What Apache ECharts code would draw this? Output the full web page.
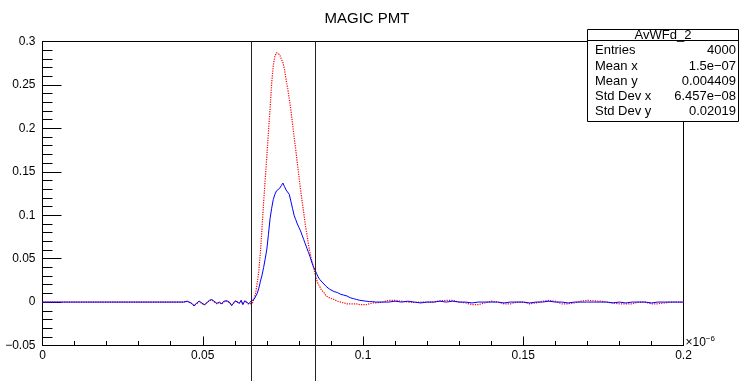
<!DOCTYPE html>
<html>
<head>
<meta charset="utf-8">
<title>MAGIC PMT</title>
<script src="https://cdn.jsdelivr.net/npm/echarts@6/dist/echarts.min.js"></script>
<style>
  html, body { margin: 0; padding: 0; background: #fff; }
  #chart { width: 740px; height: 381px; }
</style>
</head>
<body>
<div id="chart"></div>
<script>
// Time in units of 1e-6 s
const timeAxis = [
  0,
  0.0440, 0.0445, 0.0452, 0.0458, 0.0466, 0.0473, 0.0481, 0.0489, 0.0497, 0.0505,
  0.0512, 0.0521, 0.0528, 0.0535, 0.0544, 0.0552, 0.0559, 0.0566, 0.0575, 0.0583,
  0.0590, 0.0595, 0.0602, 0.0608, 0.0614, 0.0620, 0.0625, 0.0631, 0.0637, 0.0644, 0.0648,
  0.0650, 0.0655, 0.0660, 0.0665, 0.0670, 0.0675, 0.0680, 0.0685, 0.0690, 0.0695,
  0.0700, 0.0705, 0.0710, 0.0715, 0.0720, 0.0725, 0.0730, 0.0735, 0.0740, 0.0745,
  0.0750, 0.0755, 0.0760, 0.0765, 0.0770, 0.0775, 0.0780, 0.0785, 0.0790, 0.0795,
  0.0800, 0.0805, 0.0810, 0.0815, 0.0820, 0.0825, 0.0830, 0.0835, 0.0840, 0.0845,
  0.0850, 0.0855, 0.0860, 0.0865, 0.0870, 0.0875, 0.0880, 0.0885, 0.0890, 0.0895, 0.0900,
  0.091, 0.092, 0.093, 0.094, 0.095, 0.096, 0.097, 0.098, 0.099, 0.100,
  0.101, 0.102, 0.103, 0.104,
  0.106, 0.108, 0.110, 0.112, 0.114, 0.116, 0.118, 0.120, 0.122, 0.124,
  0.126, 0.128, 0.130, 0.132, 0.134, 0.136, 0.138, 0.140, 0.142, 0.144,
  0.146, 0.148, 0.150, 0.152, 0.154, 0.156, 0.158, 0.160, 0.162, 0.164,
  0.166, 0.168, 0.170, 0.172, 0.174, 0.176, 0.178, 0.180, 0.182, 0.184,
  0.186, 0.188, 0.190, 0.192, 0.194, 0.196, 0.198, 0.200
];

// Red waveform
const redTrace = [
  0,
  0, 0, 0.0005, 0.0015, -0.002, -0.004, -0.002, 0.0005, -0.0015, -0.0035,
  -0.001, 0.0015, 0.0025, 0.0005, -0.002, -0.0005, -0.0025, 0.0005, 0.001, -0.0005,
  -0.0035, -0.0045, 0.001, 0.0025, -0.001, 0.0015, -0.0025, 0.001, -0.0005, -0.0025, -0.0015,
  -0.002, -0.001, 0.004, 0.010, 0.022, 0.036, 0.058, 0.086, 0.115, 0.142,
  0.168, 0.196, 0.222, 0.252, 0.272, 0.283, 0.287, 0.289, 0.285, 0.280,
  0.276, 0.268, 0.256, 0.246, 0.234, 0.221, 0.206, 0.190, 0.176, 0.160,
  0.145, 0.130, 0.116, 0.103, 0.089, 0.078, 0.066, 0.056, 0.048, 0.041,
  0.033, 0.026, 0.021, 0.018, 0.014, 0.012, 0.010, 0.007, 0.006, 0.005, 0.004,
  0.003, 0.001, 0.000, -0.001, -0.002, -0.002, -0.002, -0.002, -0.003, -0.003,
  -0.003, -0.002, -0.001, -0.001,
  0, 0.002, 0.002, 0.001, 0, -0.0005, 0, 0, 0, 0.0015,
  0.002, 0.002, 0, -0.001, -0.003, -0.003, -0.001, 0.001, 0, -0.002,
  -0.002, 0, 0, -0.002, -0.001, 0.001, 0.002, 0.001, -0.002, -0.002,
  -0.001, 0.001, 0.002, 0.0015, 0.001, 0, -0.001, -0.002, -0.002, -0.002,
  0, 0, -0.002, -0.002, -0.001, 0, 0, 0
];

// Blue waveform
const blueTrace = [
  0,
  0, -0.0005, 0.001, 0.002, -0.0015, -0.0045, -0.001, 0.001, -0.001, -0.003,
  -0.001, 0.002, 0.003, 0.001, -0.0015, 0, -0.002, 0.001, 0.0015, 0,
  -0.004, -0.005, 0.0015, 0.003, -0.0015, 0.002, -0.003, 0.0015, 0, -0.002, -0.001,
  0.001, 0.002, 0.003, 0.005, 0.010, 0.016, 0.024, 0.031, 0.040, 0.050,
  0.061, 0.078, 0.096, 0.108, 0.118, 0.124, 0.128, 0.130, 0.131, 0.134,
  0.137, 0.133, 0.129, 0.127, 0.124, 0.116, 0.108, 0.100, 0.095, 0.090,
  0.086, 0.082, 0.077, 0.072, 0.067, 0.062, 0.057, 0.052, 0.046, 0.041,
  0.037, 0.033, 0.029, 0.026, 0.024, 0.022, 0.020, 0.018, 0.016, 0.015, 0.014,
  0.012, 0.011, 0.009, 0.008, 0.007, 0.005, 0.004, 0.003, 0.002, 0.0015,
  0.001, 0.0005, 0.0005, 0,
  0, 0, 0.001, 0, 0.001, 0, -0.001, 0, 0, 0.001,
  0, 0.001, 0, 0, -0.001, 0, 0, 0, 0, -0.001,
  0, 0, 0, -0.001, 0, 0, 0.001, 0, 0, -0.001,
  0, 0, 0, 0, 0, 0, -0.001, 0, -0.001, 0,
  0, 0, -0.001, 0, 0, 0, 0, 0
];

// Integration window edges (same time units)
const cursorTimes = [0.065, 0.085];

// Statistics panel
const statsTitle = 'AvWFd_2';
const statsRows = [
  ['Entries', '4000'],
  ['Mean x', '1.5e\u221207'],
  ['Mean y', '0.004409'],
  ['Std Dev x', '6.457e\u221208'],
  ['Std Dev y', '0.02019']
];

const FONT = '"Liberation Sans", Arial, Helvetica, sans-serif';

const chart = echarts.init(document.getElementById('chart'), null, { renderer: 'canvas' });

const fmtNum = v => {
  const r = Math.round(v * 1000) / 1000;
  return String(r).replace('-', '\u2212');
};

chart.setOption({
  animation: false,
  backgroundColor: '#fff',
  title: {
    text: 'MAGIC PMT',
    left: 362,
    textAlign: 'center',
    top: 6,
    textStyle: { fontFamily: FONT, fontSize: 15, fontWeight: 'normal', color: '#000' }
  },
  grid: {
    left: 42.5, right: 56.5, top: 41.5, bottom: 35.5,
    show: true, borderColor: '#000', borderWidth: 1, backgroundColor: 'transparent'
  },
  xAxis: {
    type: 'value', min: 0, max: 0.2, interval: 0.05,
    axisLine: { show: true, onZero: false, lineStyle: { color: '#000', width: 1 } },
    axisTick: { show: true, inside: true, length: 9, lineStyle: { color: '#000' } },
    minorTick: { show: true, splitNumber: 5, length: 4.5, lineStyle: { color: '#000' } },
    splitLine: { show: false },
    axisLabel: { color: '#000', fontFamily: FONT, fontSize: 12, margin: 4, formatter: fmtNum }
  },
  yAxis: {
    type: 'value', min: -0.05, max: 0.3, interval: 0.05,
    axisLine: { show: true, onZero: false, lineStyle: { color: '#000', width: 1 } },
    axisTick: { show: true, inside: true, length: 19, lineStyle: { color: '#000' } },
    minorTick: { show: true, splitNumber: 5, length: 10, lineStyle: { color: '#000' } },
    splitLine: { show: false },
    axisLabel: { color: '#000', fontFamily: FONT, fontSize: 12, margin: 7, formatter: fmtNum }
  },
  series: [
    {
      name: 'red', type: 'line', showSymbol: false, symbol: 'none',
      data: timeAxis.map((t, i) => [t, redTrace[i]]),
      lineStyle: { color: '#ff0000', width: 1.2, type: [1.2, 1.2] }, z: 2
    },
    {
      name: 'blue', type: 'line', showSymbol: false, symbol: 'none',
      data: timeAxis.map((t, i) => [t, blueTrace[i]]),
      lineStyle: { color: '#0000ff', width: 1 }, z: 3
    }
  ]
});

// Overlays placed through the axes' own scales
const yTop = chart.convertToPixel({ yAxisIndex: 0 }, 0.3);
const yBottom = chart.convertToPixel({ yAxisIndex: 0 }, -0.05);
const xEnd = chart.convertToPixel({ xAxisIndex: 0 }, 0.2);

const graphics = cursorTimes.map(t => {
  const x = Math.round(chart.convertToPixel({ xAxisIndex: 0 }, t)) + 0.5;
  return {
    type: 'line', z: 10, silent: true,
    shape: { x1: x, y1: yTop, x2: x, y2: 381 },
    style: { stroke: '#222', lineWidth: 1 }
  };
});

// axis exponent label
graphics.push({
  type: 'text', z: 10, silent: true,
  x: xEnd + 2, y: yBottom - 11,
  style: {
    text: '{a|\u00d710}{b|\u22126}',
    rich: {
      a: { fontFamily: FONT, fontSize: 12, fill: '#000', verticalAlign: 'bottom', lineHeight: 14 },
      b: { fontFamily: FONT, fontSize: 8, fill: '#000', verticalAlign: 'top', padding: [0, 0, 8, 0], lineHeight: 14 }
    }
  }
});

// statistics box
const boxX = 587.5, boxY = 29.5, boxW = 151, boxH = 92;
const stats = [
  { type: 'rect', shape: { x: boxX, y: boxY, width: boxW, height: boxH },
    style: { fill: '#fff', stroke: '#000', lineWidth: 1 } },
  { type: 'line', shape: { x1: boxX, y1: 40.5, x2: boxX + boxW, y2: 40.5 },
    style: { stroke: '#000', lineWidth: 1 } },
  { type: 'text', x: boxX + boxW / 2, y: 35,
    style: { text: statsTitle, fontFamily: FONT, fontSize: 13, fill: '#000', align: 'center', verticalAlign: 'middle' } }
];
const rowY = [50, 66, 81.5, 96.5, 111];
statsRows.forEach((row, i) => {
  stats.push({ type: 'text', x: 595, y: rowY[i],
    style: { text: row[0], fontFamily: FONT, fontSize: 13, fill: '#000', align: 'left', verticalAlign: 'middle' } });
  stats.push({ type: 'text', x: 736, y: rowY[i],
    style: { text: row[1], fontFamily: FONT, fontSize: 13, fill: '#000', align: 'right', verticalAlign: 'middle' } });
});
graphics.push({ type: 'group', z: 20, silent: true, children: stats });

chart.setOption({ graphic: graphics });
</script>
</body>
</html>
